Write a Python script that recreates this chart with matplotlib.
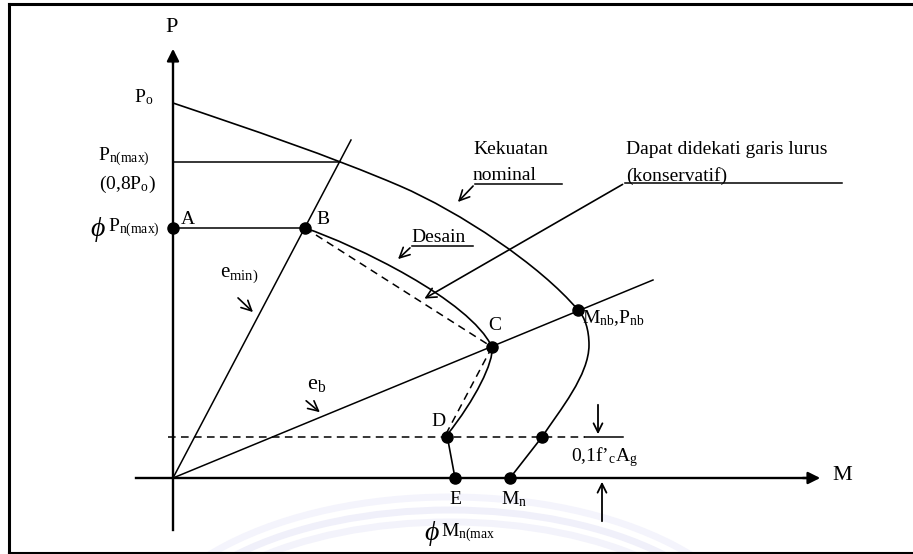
import matplotlib
matplotlib.use('Agg')
import matplotlib.pyplot as plt
from matplotlib.patches import Arc, PathPatch
from matplotlib.path import Path

plt.rcParams['font.family'] = ['Liberation Serif', 'DejaVu Serif']
plt.rcParams['mathtext.fontset'] = 'custom'
plt.rcParams['mathtext.rm'] = 'Liberation Serif'
plt.rcParams['mathtext.it'] = 'Liberation Serif:italic'

# diagram geometry (pixel coordinates, y downwards)
origin = (173, 478)
# nominal strength curve: bezier vertices and their codes
nominal_xy = [(173, 103), (250, 129), (330, 156), (400, 186),
              (460, 212), (540, 265), (578, 310),
              (585, 317), (589, 330), (589, 345),
              (589, 375), (560, 410), (542, 437),
              (510, 478)]
nominal_codes = ['M', 'C', 'C', 'C', 'C', 'C', 'C', 'C', 'C', 'C',
                 'C', 'C', 'C', 'L']
# design curve B -> C -> D -> E
design_xy = [(305, 228), (355, 245), (470, 300), (492, 347),
             (494, 362), (475, 400), (447, 435),
             (455, 478)]
design_codes = ['M', 'C', 'C', 'C', 'C', 'C', 'C', 'L']
pn_max_y = 162
phi_pn_y = 228
emin_end = (351, 140)
eb_end = (653, 280)
load_01_y = 437
pts_x = [173, 305, 492, 578, 447, 455, 510, 542]
pts_y = [228, 228, 347, 310, 437, 478, 478, 437]

code_map = {'M': Path.MOVETO, 'L': Path.LINETO, 'C': Path.CURVE4}

fig = plt.figure(figsize=(9.13, 5.54), dpi=100)
ax = fig.add_axes([0, 0, 1, 1])
ax.set_xlim(0, 913)
ax.set_ylim(554, 0)
ax.axis('off')

# faint watermark arcs at the bottom
for w, h, c in [(600, 300, '#f0f0fa'), (570, 276, '#f3f3fb'), (630, 326, '#f4f4fc')]:
    ax.add_patch(Arc((450, 660), w, h, theta1=180, theta2=360,
                     color=c, lw=5, zorder=0))

# frame
k = 'black'
ax.plot([9, 913], [4, 4], color=k, lw=2.2)
ax.plot([9, 9], [4, 553], color=k, lw=2.2)
ax.plot([9, 913], [553, 553], color=k, lw=1.5)

# axes
ax.plot([173, 173], [530, 62], color=k, lw=1.7)
ax.annotate('', xy=(173, 46), xytext=(173, 66),
            arrowprops=dict(arrowstyle='-|>', color=k, lw=1.7, mutation_scale=18))
ax.plot([136, 808], [478, 478], color=k, lw=1.7)
ax.annotate('', xy=(823, 478), xytext=(800, 478),
            arrowprops=dict(arrowstyle='-|>', color=k, lw=1.7, mutation_scale=18))

# eccentricity lines
ax.plot([origin[0], emin_end[0]], [origin[1], emin_end[1]], color=k, lw=1.1)
ax.plot([origin[0], eb_end[0]], [origin[1], eb_end[1]], color=k, lw=1.1)

# horizontal lines
ax.plot([173, 340], [pn_max_y, pn_max_y], color=k, lw=1.1)
ax.plot([173, 305], [phi_pn_y, phi_pn_y], color=k, lw=1.1)
ax.plot([168, 585], [load_01_y, load_01_y], color=k, lw=1.1, ls=(0, (5, 3.5)))
ax.plot([585, 623], [load_01_y, load_01_y], color=k, lw=1.1)

# curves
for xy, codes in [(nominal_xy, nominal_codes), (design_xy, design_codes)]:
    p = Path(xy, [code_map[c] for c in codes])
    ax.add_patch(PathPatch(p, fill=False, edgecolor=k, lw=1.2))
ax.plot([305, 492], [228, 347], color=k, lw=1.1, ls=(0, (5, 3.5)))
ax.plot([492, 446], [347, 434], color=k, lw=1.1, ls=(0, (5, 3.5)))

ax.plot(pts_x, pts_y, 'o', color=k, ms=8, zorder=5)

# dimension arrows
ax.annotate('', xy=(598, 437), xytext=(598, 402),
            arrowprops=dict(arrowstyle='->', color=k, lw=1.3, mutation_scale=16))
ax.annotate('', xy=(602, 479), xytext=(602, 524),
            arrowprops=dict(arrowstyle='->', color=k, lw=1.3, mutation_scale=16))

# callout arrows
arr = dict(arrowstyle='->', color=k, lw=1.2, mutation_scale=18)
ax.plot([475, 562], [184, 184], color=k, lw=1.1)
ax.annotate('', xy=(456, 204), xytext=(475, 184), arrowprops=arr)
ax.plot([412, 473], [246, 246], color=k, lw=1.1)
ax.annotate('', xy=(396, 261), xytext=(412, 246), arrowprops=arr)
ax.plot([625, 842], [183, 183], color=k, lw=1.1)
ax.annotate('', xy=(422, 300), xytext=(625, 183), arrowprops=arr)
ax.annotate('', xy=(255, 314), xytext=(236, 296), arrowprops=arr)
ax.annotate('', xy=(322, 414), xytext=(304, 399), arrowprops=arr)

fs = 14
def t(x, y, s, ha='left', size=fs):
    ax.text(x, y, s, ha=ha, va='center', fontsize=size, color=k)

t(172, 28, 'P', ha='center', size=16)
t(832, 476, 'M', size=16)
t(144, 97, r'P$_{\mathrm{o}}$', ha='center')
t(124, 157, r'P$_{\mathrm{n(max)}}$', ha='center')
t(127, 184, r'(0,8P$_{\mathrm{o}}$)', ha='center')
t(90, 229, r'$\phi$', size=20)
t(160, 228, r'P$_{\mathrm{n(max)}}$', ha='right')
t(181, 220, 'A')
t(316, 219, 'B')
t(488, 325, 'C')
t(582, 318, r'M$_{\mathrm{nb}}$,P$_{\mathrm{nb}}$')
t(431, 421, 'D')
t(455, 499, 'E', ha='center')
t(514, 499, r'M$_{\mathrm{n}}$', ha='center')
t(424, 533, r'$\phi$', size=20)
t(441, 533, r'M$_{\mathrm{n(max}}$')
t(220, 275, r'e$_{\mathrm{min)}}$', size=15)
t(307, 385, r'e$_{\mathrm{b}}$', size=16)
t(571, 457, "0,1f\u2019$_{\\mathrm{c}}$A$_{\\mathrm{g}}$")
t(473, 150, 'Kekuatan')
t(473, 176, 'nominal')
t(411, 237, 'Desain')
t(626, 150, 'Dapat didekati garis lurus')
t(626, 176, '(konservatif)')

fig.savefig('out.png', dpi=100)
